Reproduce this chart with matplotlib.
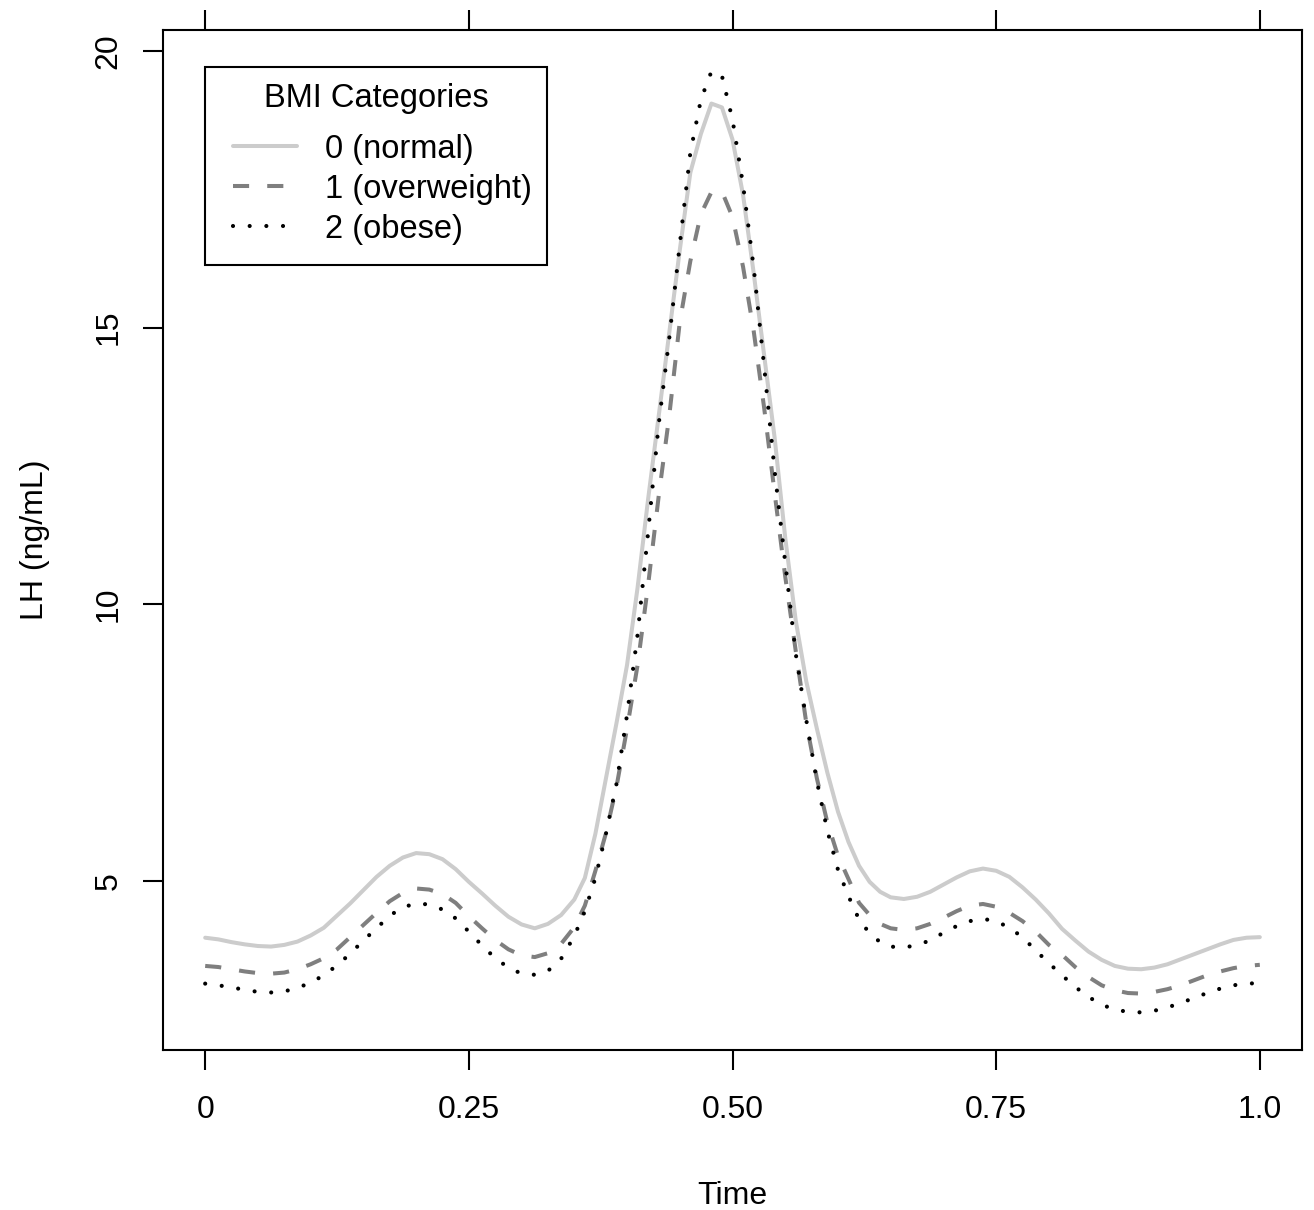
import matplotlib
matplotlib.use("Agg")
import matplotlib.pyplot as plt
from matplotlib.lines import Line2D
from matplotlib.patches import Rectangle

plt.rcParams['font.family'] = ['Liberation Sans', 'DejaVu Sans']

time = [0.0, 0.0125, 0.025, 0.0375, 0.05, 0.0625, 0.075, 0.0875, 0.1, 0.1125,
        0.125, 0.1375, 0.15, 0.1625, 0.175, 0.1875, 0.2, 0.2125, 0.225, 0.2375,
        0.25, 0.2625, 0.275, 0.2875, 0.3, 0.3125, 0.325, 0.3375,
        0.35, 0.36, 0.37, 0.38, 0.39, 0.40, 0.41, 0.42, 0.43, 0.44, 0.45, 0.46,
        0.47, 0.48, 0.49, 0.50, 0.51, 0.52, 0.53, 0.54, 0.55, 0.56, 0.57, 0.58,
        0.59, 0.60, 0.61, 0.62, 0.63, 0.64, 0.65,
        0.6625, 0.675, 0.6875, 0.7, 0.7125, 0.725, 0.7375, 0.75, 0.7625, 0.775,
        0.7875, 0.8, 0.8125, 0.825, 0.8375, 0.85, 0.8625, 0.875, 0.8875, 0.9,
        0.9125, 0.925, 0.9375, 0.95, 0.9625, 0.975, 0.9875, 1.0]

lh_normal = [3.97, 3.94, 3.89, 3.85, 3.82, 3.81, 3.84, 3.90, 4.01, 4.15,
             4.37, 4.59, 4.83, 5.07, 5.27, 5.42, 5.50, 5.48, 5.39, 5.21,
             4.98, 4.77, 4.55, 4.35, 4.21, 4.14, 4.22, 4.38,
             4.66, 5.05, 5.85, 6.85, 7.85, 8.90, 10.30, 11.90, 13.40, 14.90, 16.40, 17.80,
             18.50, 19.05, 18.98, 18.40, 17.40, 16.00, 14.50, 13.00, 11.20, 9.70, 8.60, 7.75,
             6.95, 6.25, 5.70, 5.27, 4.98, 4.80, 4.70,
             4.67, 4.71, 4.80, 4.93, 5.06, 5.17, 5.22, 5.18, 5.07, 4.88,
             4.66, 4.41, 4.13, 3.92, 3.72, 3.57, 3.46, 3.41, 3.40, 3.43,
             3.49, 3.58, 3.67, 3.76, 3.85, 3.93, 3.97, 3.98]

lh_overweight = [3.46, 3.44, 3.40, 3.36, 3.33, 3.32, 3.34, 3.40, 3.49, 3.60,
                 3.76, 3.98, 4.20, 4.42, 4.63, 4.78, 4.86, 4.84, 4.76, 4.60,
                 4.36, 4.14, 3.93, 3.76, 3.65, 3.62, 3.69, 3.86,
                 4.16, 4.55, 5.18, 5.86, 6.70, 7.75, 8.90, 10.35, 11.95, 13.40, 15.10, 16.20,
                 17.05, 17.45, 17.46, 17.00, 16.10, 14.95, 13.55, 12.00, 10.50, 9.15, 7.85, 6.85,
                 6.05, 5.45, 5.03, 4.60, 4.38, 4.22, 4.14,
                 4.11, 4.14, 4.22, 4.33, 4.45, 4.55, 4.58, 4.53, 4.42, 4.27,
                 4.08, 3.84, 3.66, 3.44, 3.26, 3.11, 3.02, 2.97, 2.96, 2.99,
                 3.04, 3.11, 3.20, 3.29, 3.36, 3.42, 3.46, 3.48]

lh_obese = [3.14, 3.11, 3.07, 3.03, 2.99, 2.98, 3.00, 3.06, 3.16, 3.29,
            3.47, 3.68, 3.92, 4.14, 4.37, 4.52, 4.59, 4.57, 4.48, 4.32,
            4.08, 3.83, 3.60, 3.43, 3.32, 3.30, 3.37, 3.59,
            4.00, 4.45, 5.05, 5.85, 6.75, 8.00, 9.45, 11.30, 13.25, 14.80, 16.50, 18.16,
            19.12, 19.63, 19.55, 18.76, 17.58, 16.10, 14.30, 12.40, 10.75, 9.10, 7.90, 6.80,
            5.90, 5.20, 4.72, 4.30, 4.05, 3.89, 3.81,
            3.79, 3.84, 3.92, 4.06, 4.18, 4.27, 4.31, 4.27, 4.15, 3.98,
            3.74, 3.51, 3.29, 3.08, 2.90, 2.76, 2.67, 2.63, 2.62, 2.65,
            2.71, 2.79, 2.88, 2.97, 3.05, 3.11, 3.14, 3.15]

labels = ["0 (normal)", "1 (overweight)", "2 (obese)"]
legend_title = "BMI Categories"
xticks = [0, 0.25, 0.5, 0.75, 1.0]
xticklabels = ["0", "0.25", "0.50", "0.75", "1.0"]
yticks = [5, 10, 15, 20]

W, H = 1314, 1210
fig = plt.figure(figsize=(W / 100, H / 100), dpi=100)
ax = fig.add_axes([163 / W, 160 / H, (1302 - 163) / W, (1050 - 30) / H])

styles = [
    dict(color="#CCCCCC", lw=2.9, solid_capstyle="round", dashes=None),
    dict(color="#7F7F7F", lw=2.9, dash_capstyle="butt", dashes=(4, 4.5)),
    dict(color="black", lw=3.0, dash_capstyle="round", dashes=(0.001, 4.0)),
]

for series, st, lab in zip([lh_normal, lh_overweight, lh_obese], styles, labels):
    kw = {k: v for k, v in st.items() if k != "dashes"}
    ln, = ax.plot(time, series, label=lab, **kw)
    if st["dashes"] is not None:
        ln.set_dashes(st["dashes"])

ax.set_xlim(-0.04, 1.04)
ax.set_ylim(1.94, 20.38)

ax.set_xticks(xticks)
ax.set_xticklabels(xticklabels)
ax.set_yticks(yticks)
ax.set_yticklabels([str(v) for v in yticks], rotation=90, va="center")

fs = 23.0
ax.tick_params(axis="x", which="both", direction="out", length=14.4, width=1.5,
               labelsize=fs, pad=18, top=True, labeltop=False)
ax.tick_params(axis="y", which="both", direction="out", length=14.4, width=1.5,
               labelsize=fs, pad=14, right=False)
for s in ax.spines.values():
    s.set_linewidth(1.5)

ax.set_xlabel("Time", fontsize=fs, labelpad=40)
ax.set_ylabel("LH (ng/mL)", fontsize=fs, labelpad=31)

# Legend (R-style box), placed in figure pixel coordinates
def fx(px):
    return px / W

def fy(py):
    return 1 - py / H

lfs = 23.5
fig.add_artist(Rectangle((fx(205), fy(265)), fx(547) - fx(205), fy(67) - fy(265),
                         transform=fig.transFigure, facecolor="white",
                         edgecolor="black", lw=1.5, zorder=5))
fig.text(fx(376), fy(107), legend_title, ha="center", va="baseline",
         fontsize=lfs, zorder=6)
row_line_y = [146, 186, 226]
row_text_y = [158, 198, 238]
for st, lab, ly, ty in zip(styles, labels, row_line_y, row_text_y):
    kw = {k: v for k, v in st.items() if k != "dashes"}
    hl = Line2D([fx(233), fx(297)], [fy(ly), fy(ly)], transform=fig.transFigure,
                zorder=6, **kw)
    if st["dashes"] is not None:
        hl.set_dashes(st["dashes"])
    fig.add_artist(hl)
    fig.text(fx(325), fy(ty), lab, ha="left", va="baseline", fontsize=lfs, zorder=6)

fig.savefig("out.png", dpi=100)
